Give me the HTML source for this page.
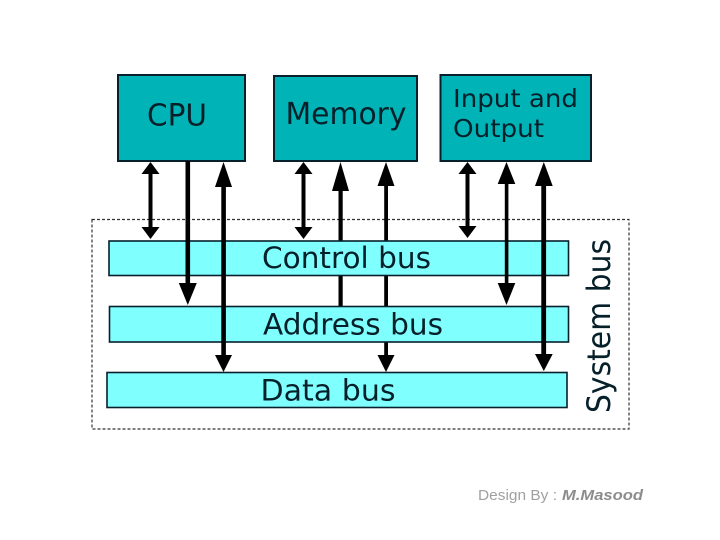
<!DOCTYPE html>
<html>
<head>
<meta charset="utf-8">
<style>
html,body{margin:0;padding:0;background:#fff;width:720px;height:540px;overflow:hidden}
svg{display:block}
text{font-family:"DejaVu Sans","Liberation Sans",sans-serif;fill:#06202a}
</style>
</head>
<body>
<svg width="720" height="540" viewBox="0 0 720 540" xmlns="http://www.w3.org/2000/svg">
<rect width="720" height="540" fill="#fff"/>

<!-- dashed system bus frame -->
<rect x="92" y="219.5" width="537" height="209.5" fill="none" stroke="#333" stroke-width="1.2" stroke-dasharray="3 2"/>

<!-- connectors behind the buses -->
<g fill="#000" stroke="none">
  <!-- CPU -->
  <rect x="148.5" y="170" width="4" height="60"/>
  <polygon points="150.5,162 141.5,174 159.5,174"/>
  <polygon points="150.5,239 141.5,227 159.5,227"/>
  <!-- Memory -->
  <rect x="301.5" y="170" width="4" height="60"/>
  <polygon points="303.5,162 294.5,174 312.5,174"/>
  <polygon points="303.5,239 294.5,227 312.5,227"/>
  <rect x="338.5" y="185" width="4.2" height="122"/>
  <polygon points="340.5,162 332,191 349,191"/>
  <rect x="384.2" y="180" width="3.8" height="180"/>
  <polygon points="386,162 377.5,186 394.5,186"/>
  <polygon points="386,372 377.5,355 394.5,355"/>
  <!-- IO -->
  <rect x="465.5" y="170" width="4" height="60"/>
  <polygon points="467.5,162 458.5,174 476.5,174"/>
  <polygon points="467.5,238 458.5,226 476.5,226"/>
</g>

<!-- boxes -->
<g stroke="#07202c" stroke-width="2" fill="#00b3b6">
  <rect x="118" y="75" width="127" height="86"/>
  <rect x="274" y="76" width="143" height="85"/>
  <rect x="440.5" y="75" width="150.5" height="86"/>
</g>

<!-- buses -->
<g stroke="#07202c" stroke-width="1.6" fill="#80ffff">
  <rect x="109" y="241" width="459.5" height="34.5"/>
  <rect x="109.5" y="306.5" width="459" height="35.5"/>
  <rect x="107" y="372.5" width="460" height="35"/>
</g>

<!-- connectors passing in front of the buses -->
<g fill="#000" stroke="none">
  <!-- CPU address -->
  <rect x="185.5" y="161" width="4.6" height="125"/>
  <polygon points="187.8,305 178.8,283 196.8,283"/>
  <!-- CPU data -->
  <rect x="221.3" y="180" width="4.6" height="178"/>
  <polygon points="223.5,162 215,187 232,187"/>
  <polygon points="223.5,372 215,355 232,355"/>
  <!-- IO address -->
  <rect x="504.8" y="180" width="3.6" height="106"/>
  <polygon points="506.5,162 497.7,184 515.3,184"/>
  <polygon points="506.5,305 497.7,283 515.3,283"/>
  <!-- IO data -->
  <rect x="541.3" y="180" width="4.8" height="178"/>
  <polygon points="543.8,162 535,186 552.7,186"/>
  <polygon points="543.8,371 535,354 552.7,354"/>
</g>

<!-- labels -->
<text x="147" y="125.5" font-size="30.5" textLength="60" lengthAdjust="spacingAndGlyphs">CPU</text>
<text x="285.5" y="124" font-size="30.5" textLength="121" lengthAdjust="spacingAndGlyphs">Memory</text>
<text x="453" y="107" font-size="24.5" textLength="125" lengthAdjust="spacingAndGlyphs">Input and</text>
<text x="453" y="137" font-size="24.5" textLength="91" lengthAdjust="spacingAndGlyphs">Output</text>
<text x="262" y="268" font-size="29.5" textLength="169" lengthAdjust="spacingAndGlyphs">Control bus</text>
<text x="263" y="334.3" font-size="29.5" textLength="180" lengthAdjust="spacingAndGlyphs">Address bus</text>
<text x="260.5" y="400.5" font-size="29.5" textLength="135" lengthAdjust="spacingAndGlyphs">Data bus</text>
<text transform="translate(610,413) rotate(-90)" font-size="32" textLength="174" lengthAdjust="spacingAndGlyphs">System bus</text>

<text x="478" y="500" font-size="15" style='font-family:"Liberation Sans",sans-serif;fill:#a0a0a0' textLength="79" lengthAdjust="spacingAndGlyphs">Design By :</text>
<text x="562" y="500" font-size="15" font-style="italic" font-weight="bold" style='font-family:"Liberation Sans",sans-serif;fill:#8c8c8c' textLength="81" lengthAdjust="spacingAndGlyphs">M.Masood</text>
</svg>
</body>
</html>
